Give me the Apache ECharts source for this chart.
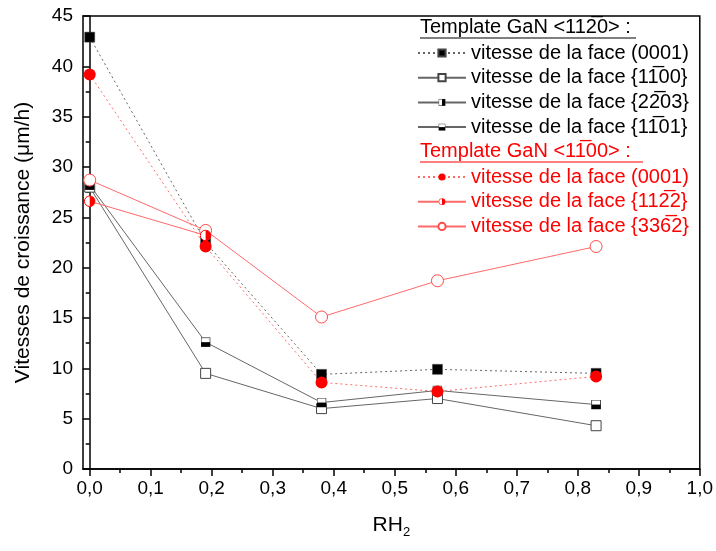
<!DOCTYPE html>
<html><head><meta charset="utf-8">
<script src="https://cdn.jsdelivr.net/npm/echarts@6/dist/echarts.min.js"></script>
<style>html,body{margin:0;padding:0;background:#fff}#c{width:716px;height:551px}</style>
</head><body><div id="c"></div>
<script>
const OL = '\u0305';
const xTicks = [0,0.1,0.2,0.3,0.4,0.5,0.6,0.7,0.8,0.9,1.0];
const xMinor = [0.05,0.15,0.25,0.35,0.45,0.55,0.65,0.75,0.85,0.95];
const yTicks = [0,5,10,15,20,25,30,35,40,45];

const names = [
  'vitesse de la face (0001)',
  'vitesse de la face {11'+OL+'00}',
  'vitesse de la face {22'+OL+'03}',
  'vitesse de la face {11'+OL+'01}',
  'vitesse de la face (0001) ',
  'vitesse de la face {112'+OL+'2}',
  'vitesse de la face {336'+OL+'2}'
];
const title1 = 'Template GaN <112'+OL+'0> :';
const title2 = 'Template GaN <11'+OL+'00> :';

const s1 = [[0,42.9],[0.19,22.5],[0.38,9.4],[0.57,9.9],[0.83,9.5]];
const s2 = [[0,28.0],[0.19,9.5],[0.38,6.0],[0.57,7.0],[0.83,4.3]];
const s3 = [[0,28.2]];
const s4 = [[0,28.2],[0.19,12.6],[0.38,6.6],[0.57,7.8],[0.83,6.4]];
const s5 = [[0,39.2],[0.19,22.1],[0.38,8.6],[0.57,7.7],[0.83,9.2]];
const s6 = [[0,26.6],[0.19,23.2]];
const s7 = [[0,28.7],[0.19,23.7],[0.38,15.1],[0.57,18.7],[0.83,22.1]];

function svg(s){return 'image://data:image/svg+xml;charset=utf-8,'+encodeURIComponent(s);}
const symHalfV = svg("<svg xmlns='http://www.w3.org/2000/svg' width='10' height='10'><rect x='0.5' y='0.5' width='9' height='9' fill='white' stroke='#444'/><rect x='5' y='0.5' width='4.5' height='9' fill='black'/></svg>");
const symHalfH = svg("<svg xmlns='http://www.w3.org/2000/svg' width='10' height='10'><rect x='0.5' y='0.5' width='9' height='9' fill='white' stroke='#444'/><rect x='0.5' y='5' width='9' height='4.5' fill='black'/></svg>");
const symHalfC = svg("<svg xmlns='http://www.w3.org/2000/svg' width='12' height='12'><circle cx='6' cy='6' r='5.3' fill='white' stroke='red'/><path d='M6 0.7 A5.3 5.3 0 0 1 6 11.3 Z' fill='red'/></svg>");

const FONT = 'Liberation Sans, Arial, sans-serif';
const GRAYL = '#666';
const REDL = '#ff6a6a';

function ser(name, data, o){
  return Object.assign({
    type:'line', name:name, data:data, z:3,
    symbolSize:10, lineStyle:{width:1}, emphasis:{disabled:true}, animation:false
  }, o);
}

const chart = echarts.init(document.getElementById('c'));
chart.setOption({
  animation:false,
  grid:{left:83,right:11,top:16,bottom:82,show:true,borderColor:'#000',borderWidth:1.5,backgroundColor:'transparent'},
  xAxis:[{
    type:'value', min:-0.011, max:1.0,
    name:'RH{s|2}', nameLocation:'middle', nameGap:43,
    nameTextStyle:{fontFamily:FONT,fontSize:21,color:'#000',rich:{s:{fontSize:13,verticalAlign:'bottom',padding:[14,0,0,0],fontFamily:FONT}}},
    axisLine:{lineStyle:{color:'#000',width:1.5}},
    axisTick:{inside:false,length:7,lineStyle:{color:'#000',width:1.5},customValues:xTicks},
    axisLabel:{fontFamily:FONT,fontSize:19,color:'#000',margin:10,customValues:xTicks,formatter:v=>v.toFixed(1).replace('.',',')},
    splitLine:{show:false}
  },{
    type:'value', min:-0.011, max:1.0, position:'bottom',
    axisLine:{show:false},
    axisTick:{inside:false,length:4,lineStyle:{color:'#000',width:1.5},customValues:xMinor},
    axisLabel:{show:false}, splitLine:{show:false}
  }],
  yAxis:{
    type:'value', min:0, max:45, interval:5,
    name:'Vitesses de croissance (\u03bcm/h)', nameLocation:'middle', nameGap:49,
    nameTextStyle:{fontFamily:FONT,fontSize:21,color:'#000'},
    axisLine:{show:true,lineStyle:{color:'#000',width:1.5}},
    axisTick:{inside:false,length:7,lineStyle:{color:'#000',width:1.5}},
    minorTick:{show:true,splitNumber:2,length:4,lineStyle:{color:'#000',width:1.5}},
    axisLabel:{fontFamily:FONT,fontSize:19,color:'#000',margin:10},
    splitLine:{show:false}
  },
  legend:[{
    orient:'vertical', left:417, top:43, padding:0, itemWidth:48, itemHeight:9, itemGap:4.7,
    textStyle:{fontFamily:FONT,fontSize:20,color:'#000',lineHeight:20},
    selectedMode:false, data:names.slice(0,4)
  },{
    orient:'vertical', left:417, top:167, padding:0, itemWidth:48, itemHeight:9, itemGap:4.7,
    textStyle:{fontFamily:FONT,fontSize:20,color:'#ff0000',lineHeight:20},
    selectedMode:false, data:names.slice(4)
  }],
  graphic:[
    {type:'text',left:420,top:17,style:{text:title1,fontFamily:FONT,fontSize:20,fill:'#000'}},
    {type:'line',shape:{x1:420,y1:38,x2:636,y2:38},style:{stroke:'#000',lineWidth:1.2}},
    {type:'text',left:420,top:141,style:{text:title2,fontFamily:FONT,fontSize:20,fill:'#ff0000'}},
    {type:'line',shape:{x1:420,y1:162,x2:643,y2:162},style:{stroke:'#ff0000',lineWidth:1.2}}
  ],
  series:[
    ser(names[1], s2, {symbol:'rect', symbolSize:10, itemStyle:{color:'#fff',borderColor:'#444',borderWidth:1}, lineStyle:{width:1,color:GRAYL}}),
    ser(names[2], s3, {symbol:symHalfV, symbolSize:10, itemStyle:{color:'#000'}, lineStyle:{width:1,color:GRAYL}}),
    ser(names[3], s4, {symbol:symHalfH, symbolSize:10, itemStyle:{color:'#000'}, lineStyle:{width:1,color:GRAYL}}),
    ser(names[0], s1, {symbol:'rect', symbolSize:10, itemStyle:{color:'#000',borderColor:'#444',borderWidth:0.5}, lineStyle:{width:1,color:GRAYL,type:[2,3]}}),
    ser(names[6], s7, {symbol:'circle', symbolSize:12, itemStyle:{color:'#fff',borderColor:'#ff4a4a',borderWidth:1}, lineStyle:{width:1,color:REDL}}),
    ser(names[5], s6, {symbol:symHalfC, symbolSize:12, itemStyle:{color:'#ff0000'}, lineStyle:{width:1,color:REDL}}),
    ser(names[4], s5, {symbol:'circle', symbolSize:12, itemStyle:{color:'#ff0000'}, lineStyle:{width:1,color:REDL,type:[2,3]}})
  ]
});
</script></body></html>
